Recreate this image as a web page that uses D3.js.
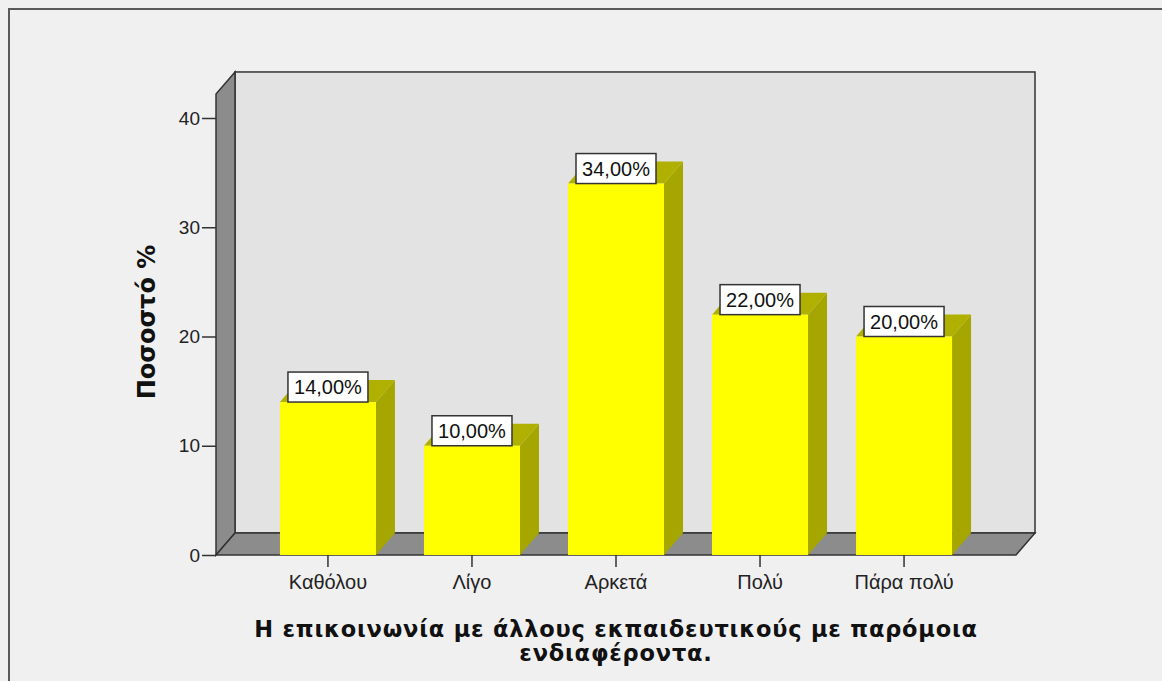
<!DOCTYPE html>
<html>
<head>
<meta charset="utf-8">
<script src="https://cdn.jsdelivr.net/npm/d3@7"></script>
<style>
  body { margin: 0; background: #f0f0f0; }
  svg { display: block; }
</style>
</head>
<body>
<svg id="drawing_region" width="1162" height="681"></svg>
<script>
const categories = ["Καθόλου", "Λίγο", "Αρκετά", "Πολύ", "Πάρα πολύ"];
const percents = [14, 10, 34, 22, 20];
const yTicks = [0, 10, 20, 30, 40];
const yTitle = "Ποσοστό %";
const xTitle = ["Η επικοινωνία με άλλους εκπαιδευτικούς με παρόμοια", "ενδιαφέροντα."];

const svg = d3.select('#drawing_region');

// frame of the whole chart
svg.append('rect')
    .attr('x', 9).attr('y', 9)
    .attr('width', 1200).attr('height', 700)
    .attr('fill', '#f0f0f0')
    .attr('stroke', '#5a5a5a').attr('stroke-width', 2);

// front plane of the plot
const plotLeft = 216, plotRight = 1016, plotBottom = 555;
const dx = 19, dy = -22;   // depth offset of the 3d box

const y = d3.scaleLinear().domain([0, 40]).range([plotBottom, 118]);
const plotTop = y(42.2);

const x = d3.scaleBand()
    .domain(categories)
    .range([plotLeft, plotRight])
    .paddingInner(1/3)
    .paddingOuter(0.444);

// back wall
svg.append('rect')
    .attr('x', plotLeft + dx).attr('y', plotTop + dy)
    .attr('width', plotRight - plotLeft).attr('height', plotBottom - plotTop)
    .attr('fill', '#e3e3e3')
    .attr('stroke', '#333').attr('stroke-width', 1.5);

// left side wall
svg.append('path')
    .attr('d', `M${plotLeft},${plotBottom} L${plotLeft},${plotTop} L${plotLeft + dx},${plotTop + dy} L${plotLeft + dx},${plotBottom + dy} Z`)
    .attr('fill', '#8c8c8c')
    .attr('stroke', '#333').attr('stroke-width', 1.5);

// floor
svg.append('path')
    .attr('d', `M${plotLeft},${plotBottom} L${plotRight},${plotBottom} L${plotRight + dx},${plotBottom + dy} L${plotLeft + dx},${plotBottom + dy} Z`)
    .attr('fill', '#8c8c8c')
    .attr('stroke', '#333').attr('stroke-width', 1.5);

// bars
const bars = svg.selectAll('g.bar')
    .data(percents)
    .enter().append('g')
    .attr('class', 'bar');

// side face
bars.append('path')
    .attr('d', (d, i) => {
        const x1 = x(categories[i]) + x.bandwidth();
        return `M${x1},${plotBottom} L${x1},${y(d)} L${x1 + dx},${y(d) + dy} L${x1 + dx},${plotBottom + dy} Z`;
    })
    .attr('fill', '#a6a600');

// top face
bars.append('path')
    .attr('d', (d, i) => {
        const x0 = x(categories[i]), x1 = x0 + x.bandwidth();
        return `M${x0},${y(d)} L${x1},${y(d)} L${x1 + dx},${y(d) + dy} L${x0 + dx},${y(d) + dy} Z`;
    })
    .attr('fill', '#b0b000');

// front face
bars.append('rect')
    .attr('x', (d, i) => x(categories[i]))
    .attr('y', d => y(d))
    .attr('width', x.bandwidth())
    .attr('height', d => plotBottom - y(d))
    .attr('fill', '#ffff00');

// value labels
const lblW = 80, lblH = 30;
bars.append('rect')
    .attr('x', (d, i) => x(categories[i]) + x.bandwidth() / 2 - lblW / 2)
    .attr('y', d => y(d) - lblH)
    .attr('width', lblW).attr('height', lblH)
    .attr('fill', '#fff')
    .attr('stroke', '#333').attr('stroke-width', 1.5);

bars.append('text')
    .attr('x', (d, i) => x(categories[i]) + x.bandwidth() / 2)
    .attr('y', d => y(d) - lblH / 2 + 7)
    .attr('text-anchor', 'middle')
    .attr('font-family', 'Liberation Sans, Arial, sans-serif')
    .attr('font-size', 20)
    .attr('fill', '#111')
    .text(d => d.toFixed(2).replace('.', ',') + '%');

// y axis
const yAxis = svg.append('g')
    .attr('transform', `translate(${plotLeft},0)`)
    .call(d3.axisLeft(y).tickValues(yTicks).tickSize(14).tickPadding(2));
yAxis.select('.domain').remove();
yAxis.selectAll('line').attr('stroke', '#333').attr('stroke-width', 1.5);
yAxis.selectAll('text')
    .attr('font-family', 'Liberation Sans, Arial, sans-serif')
    .attr('font-size', 19).attr('fill', '#222');

// x axis
const xAxis = svg.append('g')
    .attr('transform', `translate(0,${plotBottom})`)
    .call(d3.axisBottom(x).tickSize(12).tickPadding(8));
xAxis.select('.domain').remove();
xAxis.selectAll('line').attr('stroke', '#333').attr('stroke-width', 1.5);
xAxis.selectAll('text')
    .attr('font-family', 'Liberation Sans, Arial, sans-serif')
    .attr('font-size', 20).attr('fill', '#222');

// axis titles
svg.append('text')
    .attr('transform', 'translate(155,322) rotate(-90)')
    .attr('text-anchor', 'middle')
    .attr('font-family', 'DejaVu Sans, sans-serif')
    .attr('font-weight', 'bold')
    .attr('font-size', 24)
    .attr('fill', '#111')
    .text(yTitle);

svg.selectAll('text.xtitle')
    .data(xTitle)
    .enter().append('text')
    .attr('class', 'xtitle')
    .attr('x', 616)
    .attr('y', (d, i) => 637 + i * 24)
    .attr('text-anchor', 'middle')
    .attr('font-family', 'DejaVu Sans, sans-serif')
    .attr('font-weight', 'bold')
    .attr('font-size', 22.5)
    .attr('letter-spacing', 0.8)
    .attr('fill', '#111')
    .text(d => d);
</script>
</body>
</html>
